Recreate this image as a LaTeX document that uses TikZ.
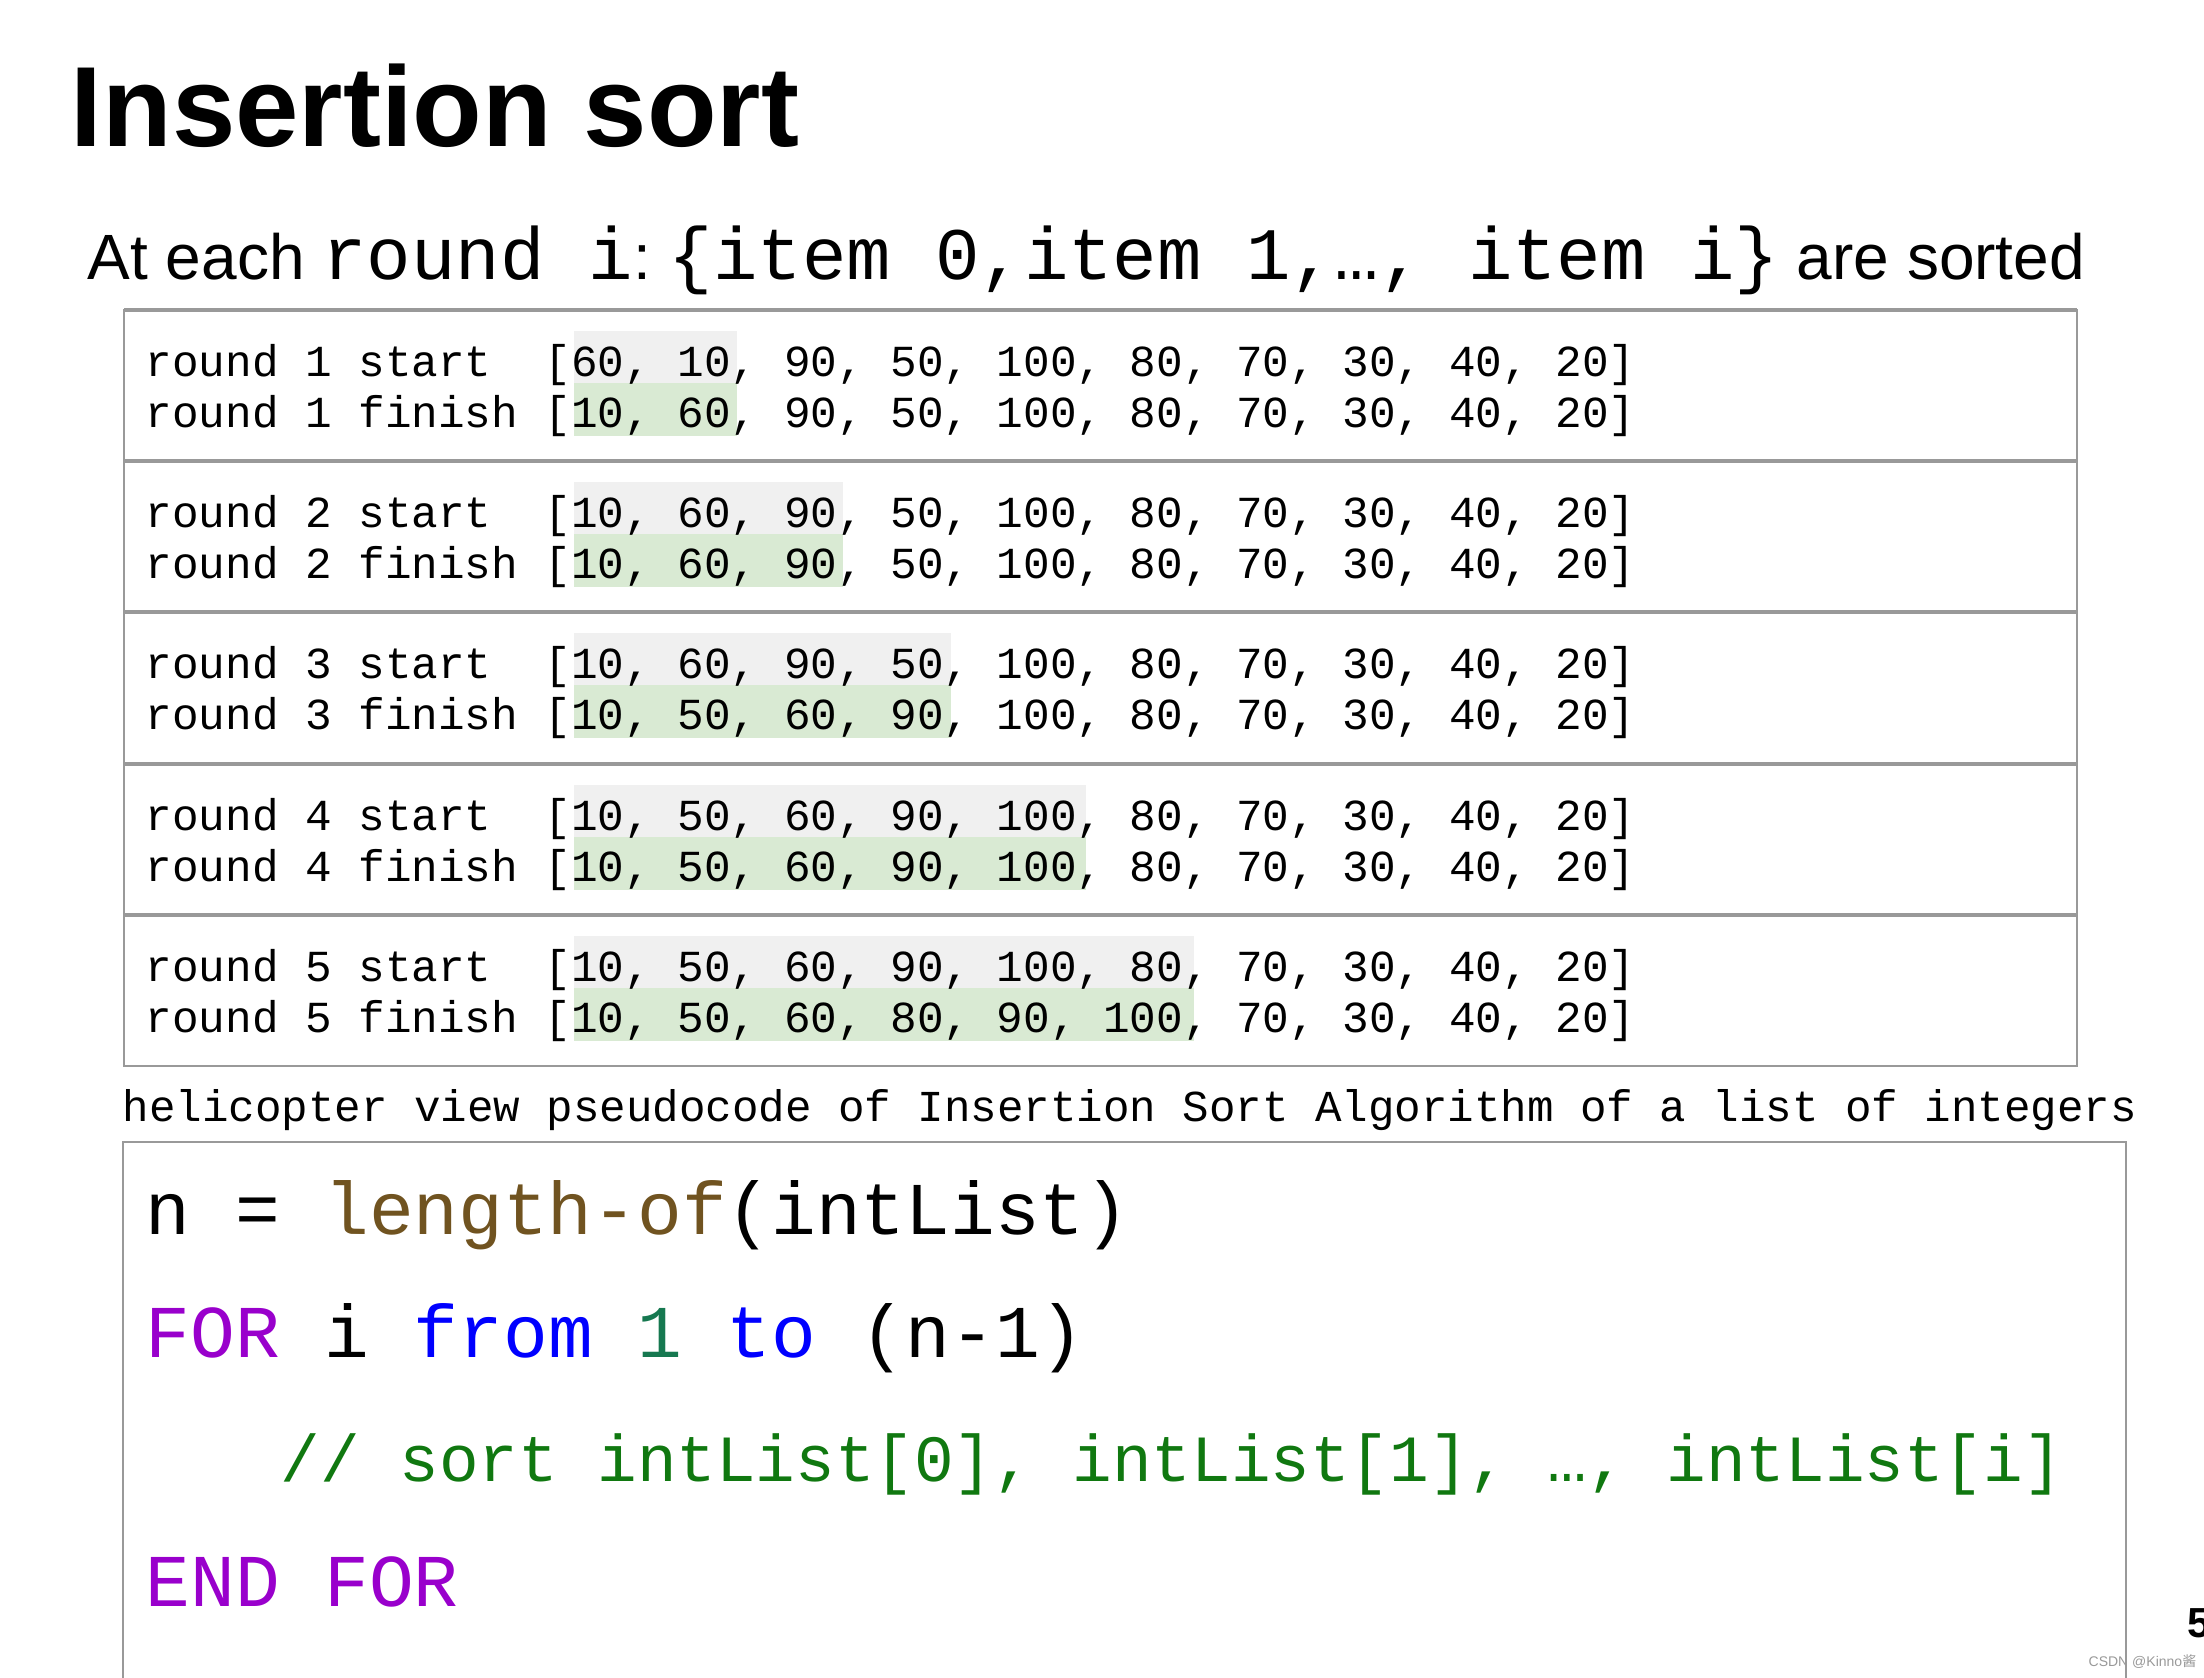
\documentclass[tikz,border=0pt]{standalone}
\usepackage{fontspec}
\setmainfont{Liberation Sans}
\newfontfamily\codefont{Liberation Mono}
\newfontfamily\cjkfont{Noto Sans CJK SC}
\definecolor{boxgray}{RGB}{153,153,153}
\definecolor{startfill}{RGB}{240,240,240}
\definecolor{finishfill}{RGB}{217,234,211}
\definecolor{fnbrown}{RGB}{112,83,32}
\definecolor{kwpurple}{RGB}{153,0,204}
\definecolor{kwblue}{RGB}{0,0,255}
\definecolor{numgreen}{RGB}{22,120,80}
\definecolor{cmtgreen}{RGB}{16,120,16}
\newcommand{\kw}[1]{\textcolor{kwpurple}{#1}}
\newcommand{\kwb}[1]{\textcolor{kwblue}{#1}}
\newcommand{\codesize}{\codefont\fontsize{22.2}{26}\selectfont}
\frenchspacing

\begin{document}
\begin{tikzpicture}[x=0.3pt,y=-0.3pt]
            \tikzset {
                row text/.style={
                        anchor=base west,
                        inner sep=0pt,
                        font=\codefont\fontsize{13.3}{16}\selectfont
                    },
                code line/.style={
                        anchor=base west,
                        inner sep=0pt,
                        font=\codefont\fontsize{22.35}{26}\selectfont
                    },
                start cells/.style={fill=startfill},
                finish cells/.style={fill=finishfill},
                frame line/.style={draw=boxgray, line width=0.6pt},
                divider/.style={draw=boxgray, line width=1pt}
            }
            \useasboundingbox (0,0) rectangle (2204,1678);

            % heading
            \node[anchor=base west, inner sep=0pt, font=\bfseries\fontsize{34.2}{40}\selectfont] (title) at (70,147) {Insertion sort};
            \node[anchor=base west, inner sep=0pt, font=\fontsize{19.2}{24}\selectfont] (subtitle) at (87,280) {At each {\codesize round i}: {\codesize \{item 0,item 1,…, item i\}} are sorted};

            % sorted prefix of each round
            \fill[start cells] (574,331) rectangle (737,383);
            \fill[finish cells] (574,383) rectangle (737,436);
            \fill[start cells] (574,482) rectangle (843,534);
            \fill[finish cells] (574,534) rectangle (843,587);
            \fill[start cells] (574,633) rectangle (951,685);
            \fill[finish cells] (574,685) rectangle (951,738);
            \fill[start cells] (574,785) rectangle (1086,837);
            \fill[finish cells] (574,837) rectangle (1086,890);
            \fill[start cells] (574,936) rectangle (1194,988);
            \fill[finish cells] (574,988) rectangle (1194,1041);

            % rounds
            \node[row text] (r1start) at (145,377) {round 1 start\ \ [60, 10, 90, 50, 100, 80, 70, 30, 40, 20]};
            \node[row text] (r1finish) at (145,428) {round 1 finish [10, 60, 90, 50, 100, 80, 70, 30, 40, 20]};
            \node[row text] (r2start) at (145,528) {round 2 start\ \ [10, 60, 90, 50, 100, 80, 70, 30, 40, 20]};
            \node[row text] (r2finish) at (145,579) {round 2 finish [10, 60, 90, 50, 100, 80, 70, 30, 40, 20]};
            \node[row text] (r3start) at (145,679) {round 3 start\ \ [10, 60, 90, 50, 100, 80, 70, 30, 40, 20]};
            \node[row text] (r3finish) at (145,730) {round 3 finish [10, 50, 60, 90, 100, 80, 70, 30, 40, 20]};
            \node[row text] (r4start) at (145,831) {round 4 start\ \ [10, 50, 60, 90, 100, 80, 70, 30, 40, 20]};
            \node[row text] (r4finish) at (145,882) {round 4 finish [10, 50, 60, 90, 100, 80, 70, 30, 40, 20]};
            \node[row text] (r5start) at (145,982) {round 5 start\ \ [10, 50, 60, 90, 100, 80, 70, 30, 40, 20]};
            \node[row text] (r5finish) at (145,1033) {round 5 finish [10, 50, 60, 80, 90, 100, 70, 30, 40, 20]};

            % table frame
            \draw[frame line] (124,310) rectangle (2077,1066);
            \draw[divider] (124,310) -- (2077,310);
            \draw[divider] (124,461) -- (2077,461);
            \draw[divider] (124,612) -- (2077,612);
            \draw[divider] (124,764) -- (2077,764);
            \draw[divider] (124,915) -- (2077,915);

            % pseudocode
            \node[row text, font=\codefont\fontsize{13.25}{16}\selectfont] (caption) at (122,1122) {helicopter view pseudocode of Insertion Sort Algorithm of a list of integers};
            \draw[frame line] (123,1700) -- (123,1142) -- (2126,1142) -- (2126,1700);
            \node[code line] (line1) at (145,1235) {n = \textcolor{fnbrown}{length-of}(intList)};
            \node[code line] (line2) at (145,1358) {\kw{FOR} i \kwb{from} \textcolor{numgreen}{1} \kwb{to} (n-1)};
            \node[code line, font=\codefont\fontsize{19.8}{23}\selectfont, text=cmtgreen] (line3) at (280,1482) {// sort intList[0], intList[1], …, intList[i]};
            \node[code line] (line4) at (145,1607) {\kw{END FOR}};

            % page corner
            \node[anchor=base west, inner sep=0pt, font=\bfseries\fontsize{12.6}{15}\selectfont] (pagenum) at (2187,1637) {5};
            \node[anchor=base west, inner sep=0pt, font=\fontsize{4.2}{5}\selectfont, text=boxgray] (csdnmark) at (2088,1667) {CSDN @Kinno{\cjkfont 酱}};
        \end{tikzpicture}
\end{document}
